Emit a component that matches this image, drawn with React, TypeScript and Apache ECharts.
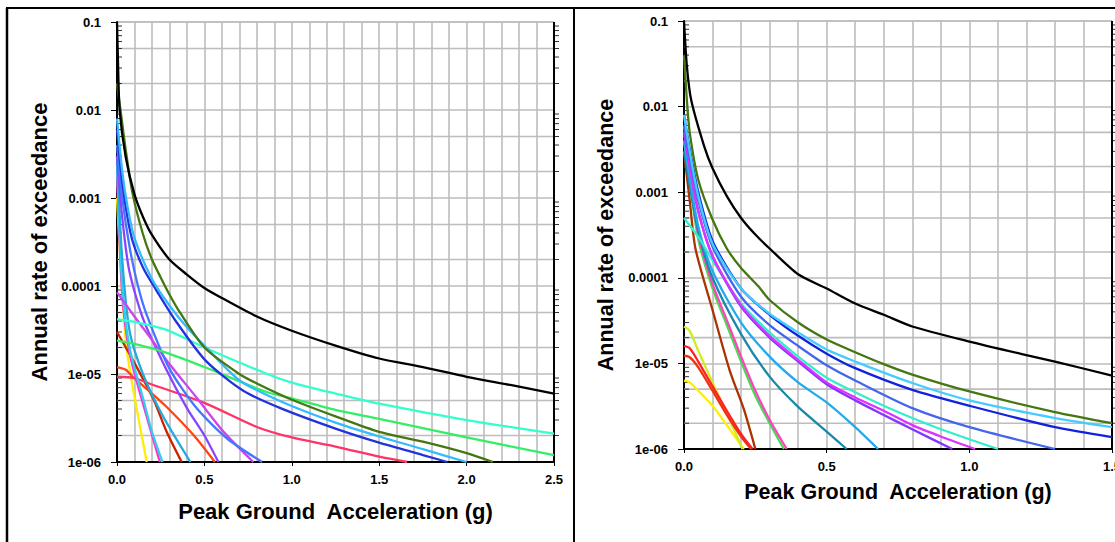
import React, { useEffect, useRef } from "react";
import * as echarts from "echarts";

type Pt = [number, number];

// ---------- Left panel curves: [PGA (g), annual rate] ----------
const L_BLACK: Pt[] = [[0, 0.1], [0.005, 0.04], [0.015, 0.01], [0.05, 2.9e-3], [0.1, 1.1e-3], [0.15, 6e-4], [0.2, 3.8e-4], [0.3, 2.0e-4], [0.4, 1.35e-4], [0.5, 9.5e-5], [0.6, 7.3e-5], [0.8, 4.5e-5], [1.0, 3.1e-5], [1.25, 2.1e-5], [1.5, 1.5e-5], [1.75, 1.2e-5], [2.0, 9.3e-6], [2.25, 7.5e-6], [2.5, 6.0e-6]];
const L_OLIVE: Pt[] = [[0, 0.02], [0.02, 0.01], [0.05, 3.5e-3], [0.09, 1.1e-3], [0.15, 3.8e-4], [0.2, 2.0e-4], [0.25, 1.25e-4], [0.3, 8e-5], [0.36, 5e-5], [0.5, 2e-5], [0.7, 1e-5], [0.8, 7.8e-6], [1.0, 5.1e-6], [1.25, 3.3e-6], [1.5, 2.2e-6], [1.75, 1.7e-6], [2.0, 1.26e-6], [2.15, 1e-6]];
const L_SKY: Pt[] = [[0, 8e-3], [0.03, 2e-3], [0.06, 8e-4], [0.1, 3.5e-4], [0.2, 1.2e-4], [0.3, 6e-5], [0.4, 3.4e-5], [0.5, 2.1e-5], [0.7, 8.5e-6], [0.935, 4.9e-6], [1.25, 2.8e-6], [1.5, 1.95e-6], [1.75, 1.4e-6], [2.0, 1e-6]];
const L_BLUE: Pt[] = [[0, 6e-3], [0.03, 1.5e-3], [0.06, 6e-4], [0.09, 3.2e-4], [0.15, 1.6e-4], [0.21, 1.0e-4], [0.34, 3.9e-5], [0.51, 1.4e-5], [0.72, 6.5e-6], [0.935, 4.1e-6], [1.25, 2.4e-6], [1.5, 1.66e-6], [1.75, 1.2e-6], [1.89, 1e-6]];
const L_ROYAL: Pt[] = [[0, 4e-3], [0.03, 1e-3], [0.073, 2.7e-4], [0.12, 1e-4], [0.17, 4.7e-5], [0.3, 1.15e-5], [0.455, 4.1e-6], [0.63, 1.85e-6], [0.83, 1e-6]];
const L_VIOLET: Pt[] = [[0, 3e-3], [0.03, 6e-4], [0.07, 1.5e-4], [0.15, 4.2e-5], [0.28, 1.15e-5], [0.4, 4.1e-6], [0.5, 2e-6], [0.58, 1e-6]];
const L_MAGENTA: Pt[] = [[0, 8.5e-5], [0.1, 4.5e-5], [0.19, 2.6e-5], [0.3, 1.3e-5], [0.455, 5.4e-6], [0.61, 2.2e-6], [0.78, 1e-6]];
const L_TURQ: Pt[] = [[0, 4.2e-5], [0.1, 3.9e-5], [0.28, 3.2e-5], [0.5, 2.0e-5], [0.86, 1.0e-5], [1.0, 8e-6], [1.25, 6e-6], [1.5, 4.6e-6], [2.0, 3.0e-6], [2.5, 2.1e-6]];
const L_SPRING: Pt[] = [[0, 2.4e-5], [0.1, 2.2e-5], [0.28, 1.75e-5], [0.5, 1.2e-5], [0.86, 6.2e-6], [1.0, 5.3e-6], [1.25, 3.9e-6], [1.5, 3.1e-6], [2.0, 1.9e-6], [2.5, 1.2e-6]];
const L_CRIMSON: Pt[] = [[0, 9.3e-6], [0.1, 9.0e-6], [0.2, 7.6e-6], [0.5, 4.7e-6], [0.8, 2.5e-6], [1.0, 1.9e-6], [1.25, 1.5e-6], [1.5, 1.15e-6], [1.66, 1e-6]];
const L_ORANGE: Pt[] = [[0, 1.2e-5], [0.05, 1.12e-5], [0.09, 9.3e-6], [0.18, 6.5e-6], [0.28, 4.3e-6], [0.44, 2e-6], [0.56, 1e-6]];
const L_BRICK: Pt[] = [[0, 3e-5], [0.09, 1.45e-5], [0.21, 5.1e-6], [0.28, 2.3e-6], [0.37, 1e-6]];
const L_YELLOW: Pt[] = [[0, 1e-3], [0.025, 1.2e-4], [0.054, 2e-5], [0.11, 4.3e-6], [0.17, 1e-6]];
const L_TEAL: Pt[] = [[0, 3e-3], [0.03, 2e-4], [0.073, 3.0e-5], [0.15, 9.8e-6], [0.26, 3.4e-6], [0.42, 1e-6]];
const L_SKY2: Pt[] = [[0, 2.5e-3], [0.03, 1e-4], [0.073, 1.95e-5], [0.15, 5.2e-6], [0.2, 2.2e-6], [0.26, 1e-6]];
const L_PINK: Pt[] = [[0, 2e-3], [0.03, 8e-5], [0.073, 1.7e-5], [0.15, 4.5e-6], [0.245, 1e-6]];

// ---------- Right panel curves ----------
const R_BLACK: Pt[] = [[0, 0.1], [0.01, 0.03], [0.025, 0.012], [0.07, 3.5e-3], [0.1, 1.9e-3], [0.15, 9e-4], [0.2, 5e-4], [0.25, 3.2e-4], [0.3, 2.2e-4], [0.4, 1.1e-4], [0.5, 7.5e-5], [0.6, 5e-5], [0.7, 3.7e-5], [0.8, 2.7e-5], [1.0, 1.8e-5], [1.2, 1.25e-5], [1.3, 1.05e-5], [1.5, 7.2e-6]];
const R_OLIVE: Pt[] = [[0, 0.04], [0.01, 0.012], [0.02, 5e-3], [0.05, 1.4e-3], [0.1, 4.8e-4], [0.15, 2.2e-4], [0.2, 1.3e-4], [0.26, 8e-5], [0.3, 5.5e-5], [0.4, 3e-5], [0.5, 1.9e-5], [0.6, 1.35e-5], [0.7, 9.8e-6], [0.8, 7.4e-6], [1.0, 4.7e-6], [1.3, 2.7e-6], [1.5, 2.0e-6]];
const R_SKY: Pt[] = [[0, 8e-3], [0.02, 3e-3], [0.05, 9e-4], [0.1, 2.5e-4], [0.2, 7.5e-5], [0.3, 3.8e-5], [0.4, 2.3e-5], [0.5, 1.45e-5], [0.6, 1.05e-5], [0.8, 5.9e-6], [1.0, 3.7e-6], [1.3, 2.3e-6], [1.5, 1.8e-6]];
const R_BLUE: Pt[] = [[0, 8e-3], [0.02, 3.2e-3], [0.05, 1e-3], [0.1, 2.7e-4], [0.2, 7.5e-5], [0.3, 3.7e-5], [0.4, 2.1e-5], [0.5, 1.3e-5], [0.6, 8.8e-6], [0.8, 4.9e-6], [1.0, 3.2e-6], [1.3, 1.8e-6], [1.5, 1.38e-6]];
const R_ROYAL: Pt[] = [[0, 6e-3], [0.02, 2.5e-3], [0.05, 8e-4], [0.1, 2.3e-4], [0.2, 6e-5], [0.3, 2.8e-5], [0.4, 1.6e-5], [0.5, 9.5e-6], [0.6, 6.3e-6], [0.8, 3e-6], [1.0, 1.8e-6], [1.3, 1e-6]];
const R_MAGENTA: Pt[] = [[0, 6e-3], [0.02, 2e-3], [0.05, 6e-4], [0.1, 1.8e-4], [0.2, 4.8e-5], [0.3, 2.1e-5], [0.4, 1.1e-5], [0.5, 6e-6], [0.6, 4e-6], [0.7, 2.8e-6], [0.8, 1.9e-6], [0.9, 1.4e-6], [1.02, 1e-6]];
const R_VIOLET: Pt[] = [[0, 5e-3], [0.02, 2e-3], [0.05, 6e-4], [0.1, 1.8e-4], [0.2, 4.6e-5], [0.3, 2e-5], [0.4, 1.05e-5], [0.5, 5.7e-6], [0.6, 3.7e-6], [0.7, 2.5e-6], [0.8, 1.7e-6], [0.94, 1e-6]];
const R_TURQ: Pt[] = [[0, 5e-4], [0.05, 3e-4], [0.1, 1.6e-4], [0.2, 5e-5], [0.3, 2.3e-5], [0.4, 1.2e-5], [0.5, 6.8e-6], [0.6, 4.6e-6], [0.7, 3.2e-6], [0.8, 2.3e-6], [0.9, 1.7e-6], [1.0, 1.3e-6], [1.1, 1e-6]];
const R_CERULEAN: Pt[] = [[0, 4e-3], [0.02, 1.5e-3], [0.05, 4e-4], [0.1, 1.2e-4], [0.2, 3e-5], [0.3, 1.2e-5], [0.4, 6e-6], [0.5, 3.5e-6], [0.6, 1.8e-6], [0.68, 1e-6]];
const R_TEAL: Pt[] = [[0, 3e-3], [0.02, 1.2e-3], [0.05, 3.5e-4], [0.1, 1e-4], [0.2, 2.2e-5], [0.3, 7e-6], [0.4, 3.1e-6], [0.5, 1.6e-6], [0.57, 1e-6]];
const R_PINK: Pt[] = [[0, 5e-3], [0.02, 1.5e-3], [0.05, 3.2e-4], [0.1, 8.5e-5], [0.15, 3.2e-5], [0.2, 1.2e-5], [0.25, 4.8e-6], [0.3, 2.2e-6], [0.36, 1e-6]];
const R_GREEN: Pt[] = [[0, 4e-3], [0.02, 1.3e-3], [0.05, 2.8e-4], [0.1, 7.5e-5], [0.15, 2.8e-5], [0.2, 1.05e-5], [0.25, 4.2e-6], [0.3, 2e-6], [0.35, 1e-6]];
const R_BROWN: Pt[] = [[0, 3e-3], [0.02, 8e-4], [0.04, 2.2e-4], [0.1, 4.2e-5], [0.16, 8.3e-6], [0.21, 2.9e-6], [0.25, 1e-6]];
const R_RED1: Pt[] = [[0, 1.6e-5], [0.02, 1.5e-5], [0.05, 1.05e-5], [0.1, 5.4e-6], [0.15, 2.8e-6], [0.2, 1.5e-6], [0.24, 1e-6]];
const R_RED2: Pt[] = [[0, 1.23e-5], [0.02, 1.18e-5], [0.05, 9e-6], [0.1, 4.8e-6], [0.15, 2.5e-6], [0.2, 1.4e-6], [0.235, 1e-6]];
const R_YGREEN: Pt[] = [[0, 2.7e-5], [0.02, 2.4e-5], [0.05, 1.4e-5], [0.1, 6e-6], [0.15, 2.6e-6], [0.205, 1e-6]];
const R_YELLOW: Pt[] = [[0, 6.3e-6], [0.02, 6e-6], [0.05, 4.8e-6], [0.1, 3.2e-6], [0.15, 1.9e-6], [0.2, 1.1e-6], [0.21, 1e-6]];

const LEFT_CURVES: { color: string; data: Pt[] }[] = [
  { color: "#ffee00", data: L_YELLOW },
  { color: "#cc2200", data: L_BRICK },
  { color: "#ff4411", data: L_ORANGE },
  { color: "#ff3366", data: L_CRIMSON },
  { color: "#ff33cc", data: L_PINK },
  { color: "#33ccee", data: L_SKY2 },
  { color: "#22aadd", data: L_TEAL },
  { color: "#8844ff", data: L_VIOLET },
  { color: "#cc44ee", data: L_MAGENTA },
  { color: "#4477ff", data: L_ROYAL },
  { color: "#33ee66", data: L_SPRING },
  { color: "#33ffcc", data: L_TURQ },
  { color: "#2233dd", data: L_BLUE },
  { color: "#33bbff", data: L_SKY },
  { color: "#447711", data: L_OLIVE },
  { color: "#000000", data: L_BLACK },
];

const RIGHT_CURVES: { color: string; data: Pt[] }[] = [
  { color: "#ffee00", data: R_YELLOW },
  { color: "#ccee22", data: R_YGREEN },
  { color: "#ee3311", data: R_RED2 },
  { color: "#ff2222", data: R_RED1 },
  { color: "#aa3300", data: R_BROWN },
  { color: "#44dd55", data: R_GREEN },
  { color: "#ff44bb", data: R_PINK },
  { color: "#1a88aa", data: R_TEAL },
  { color: "#22aaee", data: R_CERULEAN },
  { color: "#33eecc", data: R_TURQ },
  { color: "#8833ff", data: R_VIOLET },
  { color: "#dd33ff", data: R_MAGENTA },
  { color: "#4466ee", data: R_ROYAL },
  { color: "#1122dd", data: R_BLUE },
  { color: "#44ccff", data: R_SKY },
  { color: "#447711", data: R_OLIVE },
  { color: "#000000", data: R_BLACK },
];

const X_MAX = [2.5, 1.5];
const Y_MIN = 1e-6;
const Y_MAX = 0.1;
const DECADES = [-6, -5, -4, -3, -2];
const SUB_GRID_MANT = [2, 5];
const MINOR_MANT = [2, 3, 4, 5, 6, 7, 8, 9];
const X_TITLE = "Peak Ground  Acceleration (g)";
const Y_TITLE = "Annual rate of exceedance";

const GRID_COLOR = "#bdbdbd";
const FONT = "Liberation Sans, Arial, Helvetica, sans-serif";

function yFmt(v: number): string {
  const e = Math.round(Math.log10(v));
  if (e >= -4) return Math.pow(10, e).toFixed(-e);
  return "1e-0" + -e;
}

export default function App() {
  const ref = useRef<HTMLDivElement>(null);
  useEffect(() => {
    if (!ref.current) return;
    const chart = echarts.init(ref.current, undefined, { renderer: "svg" });

    const subGrid: number[] = [];
    const minor: number[] = [];
    DECADES.forEach((d) => {
      SUB_GRID_MANT.forEach((m) => subGrid.push(m * Math.pow(10, d)));
      MINOR_MANT.forEach((m) => minor.push(m * Math.pow(10, d)));
    });

    const grids = [
      { left: 117, top: 22, width: 437, height: 440, outerBoundsMode: "none", containLabel: false },
      { left: 684, top: 21, width: 428, height: 428, outerBoundsMode: "none", containLabel: false },
    ];
    const xNameGap = [38, 32];
    const titleSize = [22, 21.5];

    const xAxes = [0, 1].map((i) => ({
      gridIndex: i,
      type: "value",
      min: 0,
      max: X_MAX[i],
      interval: 0.5,
      axisLine: { onZero: false, lineStyle: { color: "#000", width: 2 } },
      axisTick: { show: true, length: 4, lineStyle: { color: "#000", width: 1 } },
      axisLabel: {
        formatter: (v: number) => v.toFixed(1),
        color: "#000",
        fontWeight: "bold",
        fontSize: 13,
        fontFamily: FONT,
        margin: 11,
        showMaxLabel: true,
        hideOverlap: false,
      },
      splitLine: { show: true, lineStyle: { color: GRID_COLOR, width: 1.6 } },
      minorTick: { show: false, splitNumber: 5 },
      minorSplitLine: { show: true, lineStyle: { color: GRID_COLOR, width: 1.6 } },
      name: X_TITLE,
      nameLocation: "middle",
      nameGap: xNameGap[i],
      nameTextStyle: { fontSize: titleSize[i], fontWeight: "bold", color: "#000", fontFamily: FONT },
    }));

    const yAxes = [0, 1].map((i) => ({
      gridIndex: i,
      type: "log",
      logBase: 10,
      min: Y_MIN,
      max: Y_MAX,
      splitNumber: 5,
      axisLine: { show: true, onZero: false, lineStyle: { color: "#000", width: 2 } },
      axisTick: { show: true, length: 6, lineStyle: { color: "#000", width: 1 } },
      axisLabel: {
        formatter: yFmt,
        color: "#000",
        fontWeight: "bold",
        fontSize: 13,
        fontFamily: FONT,
        margin: 16,
        hideOverlap: false,
      },
      splitLine: { show: true, lineStyle: { color: GRID_COLOR, width: 1.6 } },
      name: Y_TITLE,
      nameLocation: "middle",
      nameGap: 67,
      nameRotate: 90,
      nameTextStyle: { fontSize: titleSize[i], fontWeight: "bold", color: "#000", fontFamily: FONT },
    }));

    const frameSeries = [0, 1].map((i) => ({
      type: "custom",
      xAxisIndex: i,
      yAxisIndex: i,
      silent: true,
      clip: false,
      z: 1,
      data: [[0, 1e-3]],
      renderItem: (params: any, api: any) => {
        const cs = params.coordSys;
        const children: any[] = [];
        subGrid.forEach((v) => {
          const y = api.coord([0, v])[1];
          children.push({
            type: "line",
            shape: { x1: cs.x, y1: y, x2: cs.x + cs.width, y2: y },
            style: { stroke: GRID_COLOR, lineWidth: 1.6 },
          });
        });
        minor.forEach((v) => {
          const y = api.coord([0, v])[1];
          children.push({
            type: "line",
            shape: { x1: cs.x, y1: y, x2: cs.x + 5, y2: y },
            style: { stroke: "#333", lineWidth: 1 },
          });
          children.push({
            type: "line",
            shape: { x1: cs.x + cs.width, y1: y, x2: cs.x + cs.width + 5, y2: y },
            style: { stroke: "#333", lineWidth: 1 },
          });
        });
        children.push({
          type: "line",
          shape: { x1: cs.x + cs.width, y1: cs.y, x2: cs.x + cs.width, y2: cs.y + cs.height },
          style: { stroke: "#000", lineWidth: 2 },
        });
        return { type: "group", children };
      },
    }));

    const lineSeries: any[] = [];
    [LEFT_CURVES, RIGHT_CURVES].forEach((curves, i) => {
      curves.forEach((c) => {
        lineSeries.push({
          type: "line",
          xAxisIndex: i,
          yAxisIndex: i,
          data: c.data,
          showSymbol: false,
          symbol: "none",
          smooth: 0.25,
          clip: true,
          z: 3,
          lineStyle: { color: c.color, width: 2.3 },
        });
      });
    });

    chart.setOption({
      animation: false,
      backgroundColor: "#ffffff",
      grid: grids,
      xAxis: xAxes,
      yAxis: yAxes,
      series: [...frameSeries, ...lineSeries],
      graphic: [
        { type: "line", shape: { x1: 6, y1: 8, x2: 1115, y2: 8 }, style: { stroke: "#000", lineWidth: 2 }, z: 10 },
        { type: "line", shape: { x1: 7, y1: 8, x2: 7, y2: 542 }, style: { stroke: "#000", lineWidth: 2.5 }, z: 10 },
        { type: "line", shape: { x1: 574, y1: 8, x2: 574, y2: 542 }, style: { stroke: "#000", lineWidth: 2 }, z: 10 },
      ],
    });
    return () => chart.dispose();
  }, []);
  return (
    <div
      ref={ref}
      style={{ position: "absolute", left: 0, top: 0, width: 1115, height: 542, background: "#fff" }}
    />
  );
}
